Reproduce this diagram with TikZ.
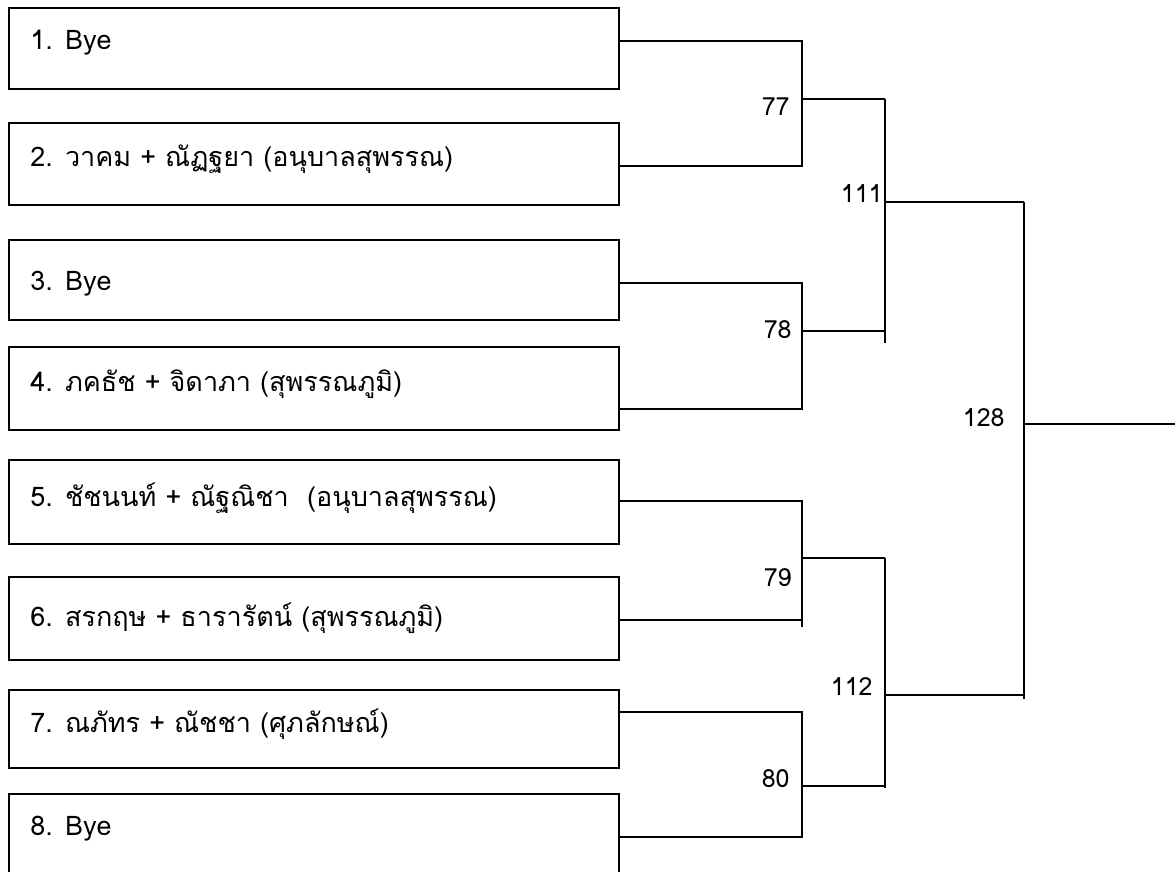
\documentclass[tikz,border=0pt]{standalone}
\usepackage{fontspec}
\newfontfamily\thaifont[Script=Thai]{Loma}
\usetikzlibrary{positioning}

\begin{document}
\begin{tikzpicture}[
  x=0.5pt, y=-0.5pt,
  entry/.style={
    rectangle,
    draw,
    line width=1pt,
    minimum width=305pt,
    minimum height=#1,
    inner sep=0pt,
    anchor=north west
  },
  pair/.style={
    anchor=base west,
    inner sep=0pt,
    font=\thaifont\fontsize{13.5}{16}\selectfont
  },
  score/.style={
    anchor=east,
    inner sep=0pt,
    font=\thaifont\fontsize{12.5}{15}\selectfont
  },
  link/.style={
    line width=1pt,
    draw=black
  }
]
\useasboundingbox (0,0) rectangle (1175,872);

% Entry boxes
\node[entry=40.5pt] (b1) at (8,7) {};
\node[entry=41pt] (b2) at (8,122) {};
\node[entry=40pt] (b3) at (8,239) {};
\node[entry=41.5pt] (b4) at (8,346) {};
\node[entry=42pt] (b5) at (8,459) {};
\node[entry=41.5pt] (b6) at (8,576) {};
\node[entry=39pt] (b7) at (8,689) {};
\node[entry=39.5pt] (b8) at (8,793) {};

% Entry names
\node[pair] (p1) at (30,50) {1. Bye};
\node[pair] (p2) at (30,167) {2. วาคม + ณัฏฐยา (อนุบาลสุพรรณ)};
\node[pair] (p3) at (30,291) {3. Bye};
\node[pair] (p4) at (30,392) {4. ภคธัช + จิดาภา (สุพรรณภูมิ)};
\node[pair] (p5) at (30,506) {5. ชัชนนท์ + ณัฐณิชา~~(อนุบาลสุพรรณ)};
\node[pair] (p6) at (30,626) {6. สรกฤษ + ธารารัตน์ (สุพรรณภูมิ)};
\node[pair] (p7) at (30,732) {7. ณภัทร + ณัชชา (ศุภลักษณ์)};
\node[pair] (p8) at (30,835) {8. Bye};

% Bracket corners
\coordinate (t77) at (802,41);
\coordinate (u77) at (802,166);
\coordinate (j77) at (802,99);
\coordinate (t78) at (802,283);
\coordinate (u78) at (802,409);
\coordinate (j78) at (802,331);
\coordinate (t79) at (802,501);
\coordinate (u79) at (802,620);
\coordinate (v79) at (802,627);
\coordinate (j79) at (802,558);
\coordinate (t80) at (802,712);
\coordinate (u80) at (802,837);
\coordinate (j80) at (802,786);
\coordinate (t111) at (885,99);
\coordinate (v111) at (885,343);
\coordinate (j111) at (885,202);
\coordinate (t112) at (885,558);
\coordinate (v112) at (885,788);
\coordinate (j112) at (885,695);
\coordinate (t128) at (1024,202);
\coordinate (v128) at (1024,699);
\coordinate (j128) at (1024,424);
\coordinate (fin) at (1175,424);

% First round
\draw[link] (b1.east |- t77) -- (t77) -- (u77) -- (b2.east |- u77);
\draw[link] (b3.east |- t78) -- (t78) -- (u78) -- (b4.east |- u78);
\draw[link] (b5.east |- t79) -- (t79) -- (v79);
\draw[link] (u79) -- (b6.east |- u79);
\draw[link] (b7.east |- t80) -- (t80) -- (u80) -- (b8.east |- u80);

% Second round
\draw[link] (j77) -- (t111);
\draw[link] (j78) -- (j78 -| t111);
\draw[link] (t111) -- (v111);
\draw[link] (j79) -- (t112);
\draw[link] (j80) -- (j80 -| t112);
\draw[link] (t112) -- (v112);

% Final
\draw[link] (j111) -- (t128);
\draw[link] (j112) -- (j112 -| t128);
\draw[link] (t128) -- (v128);
\draw[link] (j128) -- (fin);

% Match numbers
\node[score] (n77) at (790,107) {77};
\node[score] (n78) at (792,330) {78};
\node[score] (n79) at (792,578) {79};
\node[score] (n80) at (790,779) {80};
\node[score] (n111) at (883,194) {111};
\node[score] (n112) at (873,687) {112};
\node[score] (n128) at (1005,418) {128};
\end{tikzpicture}
\end{document}
